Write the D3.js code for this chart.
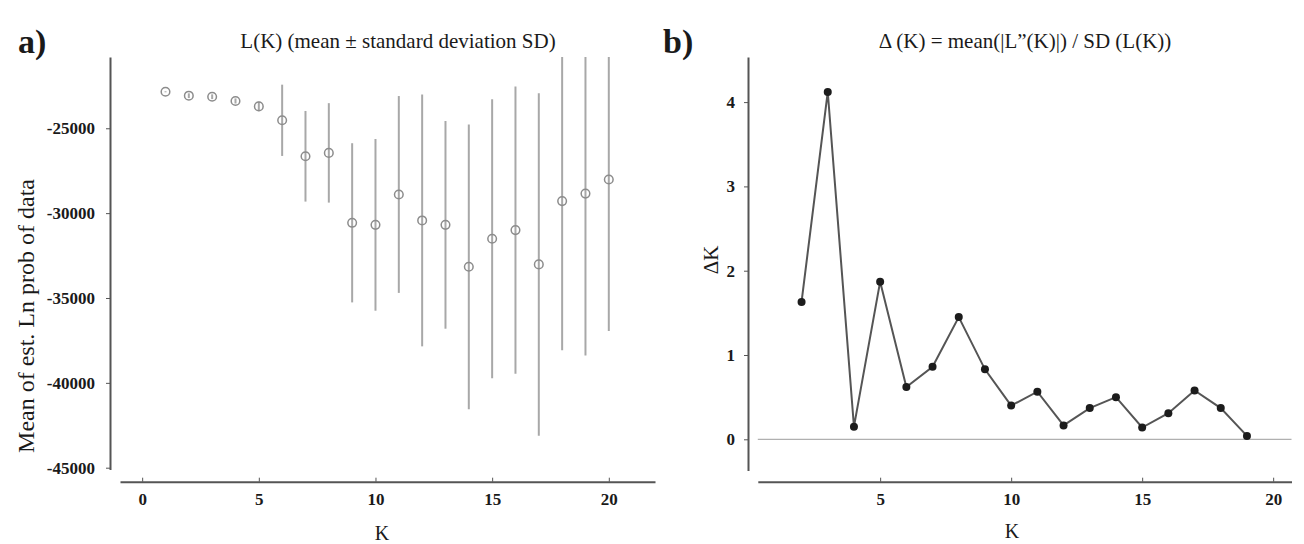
<!DOCTYPE html>
<html>
<head>
<meta charset="utf-8">
<script src="https://cdn.jsdelivr.net/npm/d3@7"></script>
<style>
  html, body { margin: 0; padding: 0; background: #fff; }
  svg { display: block; }
  text { font-family: "Liberation Serif", "Times New Roman", serif; fill: #1a1a1a; }
</style>
</head>
<body>
<svg id="chart" width="1304" height="544"></svg>
<script>
// ---- data ----
const kLeft = [1,2,3,4,5,6,7,8,9,10,11,12,13,14,15,16,17,18,19,20];
const meanLnProb = [-22850,-23080,-23140,-23390,-23710,-24530,-26650,-26450,-30570,-30690,
                    -28900,-30430,-30690,-33160,-31510,-31000,-33020,-29290,-28850,-28020];
const sdLnProb = [30,140,140,150,280,2100,2670,2930,4690,5060,
                  5800,7420,6120,8390,8220,8460,10090,8790,9540,8920];

const kRight = [2,3,4,5,6,7,8,9,10,11,12,13,14,15,16,17,18,19];
const deltaK = [1.63,4.12,0.15,1.87,0.62,0.86,1.45,0.83,0.40,0.565,0.165,0.37,0.50,0.14,0.31,0.58,0.37,0.04];

const xTicksLeft = [0,5,10,15,20];
const yTicksLeft = [-25000,-30000,-35000,-40000,-45000];
const xTicksRight = [5,10,15,20];
const yTicksRight = [0,1,2,3,4];

const titleLeft = "L(K) (mean \u00B1 standard deviation SD)";
const titleRight = "\u0394 (K) = mean(|L\u201D(K)|)  / SD (L(K))";
const yLabelLeft = "Mean of est. Ln prob of data";
const yLabelRight = "\u0394K";
const xLabel = "K";

// ---- drawing ----
const svg = d3.select("#chart");
const axisColor = "#555";

function styleAxis(g) {
  g.select(".domain").attr("stroke", axisColor).attr("stroke-width", 2);
  g.selectAll(".tick line").attr("stroke", axisColor).attr("stroke-width", 1);
  g.selectAll(".tick text")
    .style("font-family", "'Liberation Serif', serif")
    .style("font-weight", "bold")
    .style("font-size", "17px")
    .attr("fill", "#1a1a1a");
}

// ===== Panel a =====
const xL = d3.scaleLinear().domain([-0.95, 21.98]).range([120, 655]);
const yL = d3.scaleLinear().domain([-45100, -20800]).range([469.4, 57]);

svg.append("g")
  .attr("transform", "translate(0,481.7)")
  .call(d3.axisBottom(xL).tickValues(xTicksLeft).tickFormat(d3.format("d"))
        .tickSize(-4).tickSizeOuter(0).tickPadding(11))
  .call(styleAxis);

svg.append("g")
  .attr("transform", "translate(110,0)")
  .call(d3.axisLeft(yL).tickValues(yTicksLeft).tickFormat(d => d3.format("d")(d).replace("\u2212", "-"))
        .tickSize(4).tickSizeOuter(0).tickPadding(11))
  .call(styleAxis);

const clipTop = yL.range()[1];
const gL = svg.append("g");
gL.selectAll("line.err").data(kLeft).join("line")
  .attr("class", "err")
  .attr("x1", d => xL(d)).attr("x2", d => xL(d))
  .attr("y1", (d, i) => Math.max(clipTop, yL(meanLnProb[i] + sdLnProb[i])))
  .attr("y2", (d, i) => yL(meanLnProb[i] - sdLnProb[i]))
  .attr("stroke", "#a8a8a8").attr("stroke-width", 2);
gL.selectAll("circle").data(kLeft).join("circle")
  .attr("cx", d => xL(d)).attr("cy", (d, i) => yL(meanLnProb[i]))
  .attr("r", 4.3)
  .attr("fill", "none").attr("stroke", "#8c8c8c").attr("stroke-width", 1.5);

svg.append("text").attr("x", 18).attr("y", 53)
  .style("font-size", "34px").style("font-weight", "bold").text("a)");
svg.append("text").attr("x", 398).attr("y", 48).attr("text-anchor", "middle")
  .style("font-size", "21px").text(titleLeft);
svg.append("text").attr("transform", "translate(34,316) rotate(-90)")
  .attr("text-anchor", "middle").style("font-size", "24px").text(yLabelLeft);
svg.append("text").attr("x", 382).attr("y", 540).attr("text-anchor", "middle")
  .style("font-size", "20px").text(xLabel);

// ===== Panel b =====
const xR = d3.scaleLinear().domain([0.33, 20.7]).range([757.8, 1291.5]);
const yR = d3.scaleLinear().domain([-0.37, 4.535]).range([470.5, 57]);

svg.append("g")
  .attr("transform", "translate(0,481.7)")
  .call(d3.axisBottom(xR).tickValues(xTicksRight).tickFormat(d3.format("d"))
        .tickSize(-4).tickSizeOuter(0).tickPadding(11))
  .call(styleAxis);

svg.append("g")
  .attr("transform", "translate(748,0)")
  .call(d3.axisLeft(yR).tickValues(yTicksRight).tickFormat(d3.format("d"))
        .tickSize(4).tickSizeOuter(0).tickPadding(9))
  .call(styleAxis);

// zero reference line
svg.append("line")
  .attr("x1", xR.range()[0]).attr("x2", xR.range()[1])
  .attr("y1", yR(0)).attr("y2", yR(0))
  .attr("stroke", "#b0b0b0").attr("stroke-width", 1.2);

const line = d3.line().x((d, i) => xR(kRight[i])).y(d => yR(d));
svg.append("path").datum(deltaK)
  .attr("d", line).attr("fill", "none")
  .attr("stroke", "#555").attr("stroke-width", 2);
svg.append("g").selectAll("circle").data(deltaK).join("circle")
  .attr("cx", (d, i) => xR(kRight[i])).attr("cy", d => yR(d))
  .attr("r", 4).attr("fill", "#1c1c1c");

svg.append("text").attr("x", 663).attr("y", 53)
  .style("font-size", "34px").style("font-weight", "bold").text("b)");
svg.append("text").attr("x", 1025).attr("y", 48).attr("text-anchor", "middle")
  .style("font-size", "21px").text(titleRight);
svg.append("text").attr("transform", "translate(718,260) rotate(-90)")
  .attr("text-anchor", "middle").style("font-size", "21px").text(yLabelRight);
svg.append("text").attr("x", 1012).attr("y", 538).attr("text-anchor", "middle")
  .style("font-size", "20px").text(xLabel);
</script>
</body>
</html>
